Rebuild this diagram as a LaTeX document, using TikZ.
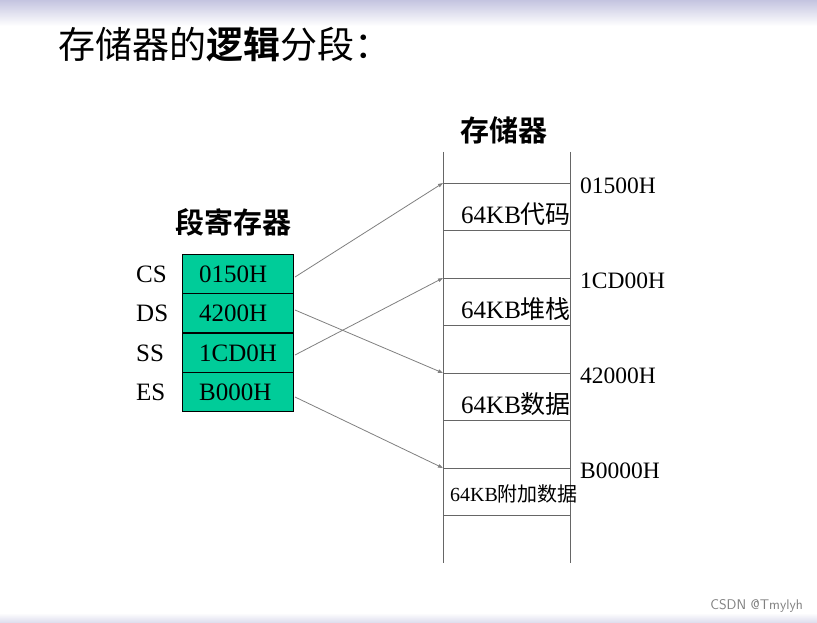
\documentclass[tikz,border=0pt]{standalone}
\usepackage{fontspec}
\setmainfont{Liberation Serif}
\newfontfamily\cjk{Noto Sans CJK SC}
\newfontfamily\cjkb{Noto Sans CJK SC Bold}
\usetikzlibrary{arrows.meta}
\definecolor{reg}{RGB}{0,204,153}
\definecolor{bar}{RGB}{196,196,224}
\begin{document}
\begin{tikzpicture}[x=1pt,y=-1pt,
  arr/.style={draw=gray,line width=0.8pt,-{Triangle[length=5pt,width=3.5pt]}},
  mem/.style={draw=gray!80!black,line width=0.8pt},
  lbl/.style={font=\fontsize{25}{25}\selectfont,anchor=west,inner sep=0},
  addr/.style={font=\fontsize{23.5}{23.5}\selectfont,anchor=west,inner sep=0}]
\useasboundingbox (0,0) rectangle (817,623);
\fill[white] (0,0) rectangle (817,623);
\shade[top color=bar,bottom color=white] (0,0) rectangle (817,26);
\shade[top color=white,bottom color=bar!60] (0,613) rectangle (817,623);
\node[anchor=west,inner sep=0,font=\cjk\fontsize{37}{37}\selectfont] (title) at (58,45) {存储器的{\cjkb 逻辑}分段：};
\node[inner sep=0,font=\cjkb\fontsize{29}{29}\selectfont] (mt) at (504,130) {存储器};
\node[inner sep=0,font=\cjkb\fontsize{29}{29}\selectfont] (rt) at (233,222) {段寄存器};
% registers
\foreach \n/\y/\v/\l in {cs/254/0150H/CS,ds/293/4200H/DS,ss/333/1CD0H/SS,es/372/B000H/ES}{
  \draw[fill=reg,line width=0.8pt] (182,\y) rectangle (293,\y+39.5);
  \node[font=\fontsize{25}{25}\selectfont,anchor=west,inner sep=0] (\n) at (199,\y+20) {\v};
  \node[font=\fontsize{25}{25}\selectfont,anchor=west,inner sep=0] (\n l) at (136,\y+20) {\l};
  \coordinate (\n o) at (295,\y+20);
}
% memory
\draw[mem] (443,152) -- (443,563);
\draw[mem] (570,152) -- (570,563);
\foreach \y in {183,230,278,325,373,420,468,515}{\draw[mem] (443,\y) -- (570,\y);}
\coordinate (m1) at (443,183);
\coordinate (m2) at (443,278);
\coordinate (m3) at (443,373);
\coordinate (m4) at (443,468);
\coordinate (cso2) at (295,277);
\coordinate (dso2) at (295,310);
\coordinate (sso2) at (295,355);
\coordinate (eso2) at (295,397);
\draw[arr] (cso2) -- (m1);
\draw[arr] (sso2) -- (m2);
\draw[arr] (dso2) -- (m3);
\draw[arr] (eso2) -- (m4);
\node[addr] (a1) at (580,186) {01500H};
\node[addr] (a2) at (580,281) {1CD00H};
\node[addr] (a3) at (580,376) {42000H};
\node[addr] (a4) at (580,471) {B0000H};
\node[lbl] (s1) at (461,214) {64KB{\cjk 代码}};
\node[lbl] (s2) at (461,309) {64KB{\cjk 堆栈}};
\node[lbl] (s3) at (461,404) {64KB{\cjk 数据}};
\node[anchor=west,inner sep=0,font=\fontsize{20}{20}\selectfont] (s4) at (450,494) {64KB{\cjk 附加数据}};
\node[anchor=east,inner sep=0,text=gray,font=\sffamily\fontsize{14}{14}\selectfont] (wm) at (803,606) {CSDN @Tmylyh};
\end{tikzpicture}
\end{document}
